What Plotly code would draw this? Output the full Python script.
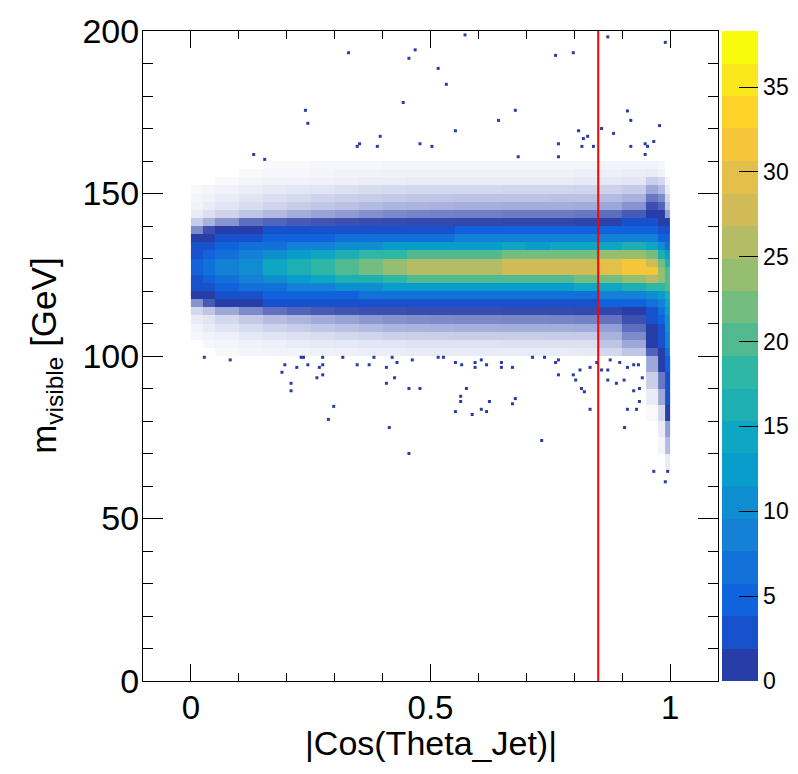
import numpy as np
import plotly.graph_objects as go

# binning of the coarse grid (narrower columns close to |cos| = 1)
cos_edges = [0.0, 0.025, 0.05, 0.1, 0.15, 0.2, 0.25, 0.3, 0.35, 0.4, 0.45, 0.5,
             0.55, 0.6, 0.65, 0.7, 0.75, 0.8, 0.85, 0.9, 0.95, 0.975, 0.99, 1.0]
mass_edges = [100, 102.5, 105, 107.5, 110, 112.5, 115, 117.5, 120, 122.5, 125,
              127.5, 130, 132.5, 135, 137.5, 140, 142.5, 145, 147.5, 150,
              152.5, 155, 157.5, 160]

# mean entries per bin, one list per cos column, mass rows from 100 GeV up
# (values below 1 = share of the fine bins that are filled)
counts_by_cos = [
    [0, 0, 0.04, 0.06, 0.1, 0.2, 0.55, 1.1, 2.0, 3.0, 3.9, 3.9, 3.1, 2.1, 1.2, 0.6, 0.26, 0.1, 0.06, 0.05, 0.03, 0, 0, 0],
    [0, 0.04, 0.06, 0.1, 0.14, 0.3, 0.85, 1.7, 3.0, 4.6, 5.9, 5.9, 4.7, 3.1, 1.8, 0.9, 0.4, 0.16, 0.1, 0.07, 0.05, 0, 0, 0],
    [0.03, 0.05, 0.08, 0.14, 0.2, 0.45, 1.2, 2.4, 4.3, 6.5, 8.3, 8.3, 6.6, 4.4, 2.6, 1.3, 0.55, 0.22, 0.14, 0.1, 0.07, 0.03, 0, 0],
    [0.05, 0.07, 0.12, 0.18, 0.28, 0.6, 1.6, 3.2, 5.8, 8.7, 11.3, 11.3, 9.0, 6.0, 3.5, 1.7, 0.74, 0.3, 0.18, 0.14, 0.09, 0.05, 0.03, 0],
    [0.06, 0.08, 0.14, 0.22, 0.34, 0.73, 2.0, 3.9, 7.0, 10.6, 13.7, 13.7, 10.9, 7.3, 4.2, 2.1, 0.8, 0.36, 0.22, 0.17, 0.11, 0.06, 0.04, 0.03],
    [0.06, 0.1, 0.16, 0.26, 0.38, 0.8, 2.2, 4.5, 8.0, 12.2, 15.7, 15.7, 12.5, 8.3, 4.8, 2.4, 0.85, 0.42, 0.26, 0.19, 0.13, 0.06, 0.04, 0.03],
    [0.07, 0.11, 0.18, 0.29, 0.43, 0.85, 2.5, 5.0, 9.0, 13.7, 17.8, 17.6, 14.0, 9.4, 5.4, 2.7, 0.88, 0.47, 0.29, 0.22, 0.14, 0.07, 0.05, 0.04],
    [0.08, 0.12, 0.2, 0.32, 0.48, 0.88, 2.8, 5.6, 10.0, 15.4, 20.2, 20.0, 15.8, 10.4, 6.0, 3.0, 0.9, 0.52, 0.32, 0.24, 0.16, 0.08, 0.06, 0.04],
    [0.09, 0.13, 0.22, 0.35, 0.53, 0.9, 3.1, 6.2, 11.0, 17.2, 22.4, 22.2, 17.6, 11.4, 6.6, 3.3, 0.92, 0.57, 0.35, 0.26, 0.18, 0.09, 0.06, 0.04],
    [0.09, 0.14, 0.24, 0.38, 0.56, 0.9, 3.3, 6.6, 11.8, 18.6, 24.2, 24.0, 18.9, 12.2, 7.1, 3.6, 0.93, 0.61, 0.38, 0.28, 0.19, 0.09, 0.07, 0.05],
    [0.1, 0.15, 0.25, 0.39, 0.59, 0.92, 3.4, 6.9, 12.3, 19.5, 25.5, 25.4, 19.9, 12.7, 7.4, 3.7, 0.94, 0.64, 0.39, 0.29, 0.2, 0.1, 0.07, 0.05],
    [0.1, 0.15, 0.25, 0.4, 0.6, 0.92, 3.5, 7.0, 12.5, 20.0, 26.2, 26.0, 20.4, 13.0, 7.5, 3.8, 0.94, 0.65, 0.4, 0.3, 0.2, 0.1, 0.07, 0.05],
    [0.1, 0.15, 0.26, 0.41, 0.61, 0.92, 3.6, 7.1, 12.8, 20.4, 26.6, 26.4, 20.8, 13.3, 7.7, 3.9, 0.94, 0.66, 0.41, 0.31, 0.2, 0.1, 0.07, 0.05],
    [0.1, 0.15, 0.26, 0.41, 0.61, 0.92, 3.6, 7.2, 12.9, 20.5, 26.8, 26.2, 20.6, 13.2, 7.7, 3.9, 0.94, 0.66, 0.41, 0.31, 0.2, 0.1, 0.07, 0.05],
    [0.1, 0.16, 0.26, 0.42, 0.62, 0.93, 3.6, 7.3, 13.0, 20.7, 27.0, 27.0, 21.2, 13.5, 7.8, 4.0, 0.95, 0.68, 0.42, 0.31, 0.21, 0.1, 0.07, 0.05],
    [0.1, 0.16, 0.26, 0.42, 0.62, 0.93, 3.7, 7.3, 13.1, 20.8, 26.9, 27.1, 21.1, 13.4, 7.8, 4.0, 0.95, 0.68, 0.42, 0.31, 0.21, 0.1, 0.07, 0.05],
    [0.1, 0.16, 0.27, 0.42, 0.63, 0.93, 3.7, 7.4, 13.2, 20.9, 27.2, 27.0, 21.3, 13.6, 7.9, 4.0, 0.95, 0.68, 0.42, 0.32, 0.21, 0.1, 0.07, 0.05],
    [0.11, 0.16, 0.27, 0.43, 0.65, 0.94, 3.8, 7.6, 13.5, 21.4, 27.8, 27.8, 21.9, 14.0, 8.1, 4.1, 0.96, 0.7, 0.43, 0.32, 0.22, 0.11, 0.08, 0.05],
    [0.2, 0.3, 0.4, 0.5, 0.72, 0.95, 4.1, 8.1, 14.5, 22.6, 29.4, 29.2, 23.0, 15.1, 8.7, 4.4, 0.97, 0.75, 0.46, 0.35, 0.23, 0.12, 0.08, 0.06],
    [0.3, 0.45, 0.6, 0.75, 0.9, 1.7, 4.4, 8.8, 15.6, 24.0, 31.2, 30.8, 24.4, 16.0, 9.3, 4.7, 2.0, 0.85, 0.55, 0.4, 0.27, 0.13, 0.09, 0.06],
    [0.8, 1.0, 1.4, 1.8, 2.2, 3.0, 5.8, 10.5, 17.5, 26.0, 30.8, 28.5, 21.5, 14.5, 8.5, 4.5, 2.1, 1.1, 0.9, 0.7, 0.45, 0.25, 0.1, 0.06],
    [1.8, 2.2, 2.8, 3.5, 5.0, 6.5, 9.0, 13.0, 18.5, 23.0, 24.5, 22.0, 16.0, 10.0, 5.5, 3.0, 1.6, 1.0, 0.8, 0.6, 0.35, 0.2, 0.06, 0.04],
    [7.0, 8.0, 9.0, 10.0, 11.0, 12.5, 14.5, 17.0, 19.5, 20.5, 19.5, 16.5, 11.5, 7.0, 4.0, 2.2, 1.0, 0.5, 0.3, 0.2, 0.1, 0.05, 0, 0],
]

# low mass tail at the forward edge
tail_cos_edges = [0.95, 0.975, 0.99, 1.0]
tail_mass_edges = [60, 65, 70, 75, 80, 85, 90, 95, 100]
tail_counts = [
    [0, 0, 0],
    [0, 0, 0.1],
    [0, 0.05, 0.35],
    [0, 0.1, 0.5],
    [0.03, 0.2, 1.2],
    [0.1, 0.45, 2.0],
    [0.25, 0.7, 3.0],
    [0.45, 1.2, 4.5],
]

# single entries far from the band
outlier_cos = [0.572, 0.870, 0.990, 0.329, 0.468, 0.455, 0.761, 0.798, 0.516, 0.533,
               0.443, 0.239, 0.244, 0.677, 0.911, 0.918, 0.642, 0.857, 0.978, 0.552,
               0.809, 0.882, 0.395, 0.828, 0.819, 0.352, 0.347, 0.389, 0.478, 0.503,
               0.767, 0.816, 0.840, 0.918, 0.948, 0.953, 0.966, 0.131, 0.154, 0.683,
               0.767, 0.948,
               0.028, 0.082, 0.230, 0.235, 0.275, 0.317, 0.382, 0.420, 0.516, 0.527,
               0.196, 0.221, 0.244, 0.268, 0.275, 0.347, 0.372, 0.408, 0.430, 0.462,
               0.552, 0.565, 0.593, 0.593, 0.606, 0.617, 0.648, 0.648, 0.671, 0.713,
               0.738, 0.761, 0.767, 0.833, 0.847, 0.812, 0.857, 0.870, 0.875, 0.895,
               0.911, 0.924, 0.934, 0.190, 0.275, 0.263, 0.425, 0.767, 0.798, 0.803,
               0.870, 0.888, 0.904, 0.942, 0.209, 0.408, 0.209, 0.455, 0.478, 0.575,
               0.815, 0.821, 0.924, 0.936, 0.563, 0.563, 0.623, 0.677, 0.671, 0.936,
               0.298, 0.552, 0.587, 0.606, 0.617, 0.833, 0.911, 0.930, 0.287, 0.414,
               0.905, 0.732, 0.455, 0.966, 0.995, 0.990]
outlier_mass = [198.8, 198.2, 196.5, 193.3, 194.2, 191.6, 192.5, 193.3, 188.5, 183.6,
                178.0, 175.6, 171.6, 175.6, 175.4, 172.5, 172.5, 170.0, 170.9, 169.3,
                169.3, 168.5, 167.6, 167.6, 166.9, 165.3, 164.5, 164.5, 165.3, 164.5,
                165.3, 164.5, 164.5, 164.5, 165.3, 164.5, 166.0, 162.0, 160.5, 161.3,
                161.3, 162.0,
                99.6, 98.8, 99.6, 99.6, 99.6, 99.6, 99.6, 99.6, 99.6, 99.6,
                97.3, 96.5, 97.3, 96.5, 97.3, 97.3, 97.3, 96.5, 98.0, 98.8,
                98.0, 97.3, 98.0, 96.5, 98.8, 97.3, 98.0, 96.5, 96.5, 99.6,
                99.6, 98.0, 98.8, 96.5, 98.0, 95.7, 95.7, 95.7, 98.8, 98.0,
                96.5, 97.3, 97.3, 95.0, 94.2, 93.3, 93.3, 94.2, 94.2, 92.6,
                92.6, 91.6, 92.6, 93.3, 91.6, 91.6, 89.3, 90.0, 90.0, 90.0,
                90.0, 89.0, 89.3, 90.0, 87.6, 86.0, 86.0, 86.9, 85.3, 86.0,
                84.5, 82.9, 82.0, 83.6, 82.9, 83.6, 83.6, 83.6, 80.5, 78.0,
                78.0, 74.0, 70.0, 64.5, 64.5, 61.3]

cut_value = 0.85
z_max = 38.3
cbar_ticks = [0, 5, 10, 15, 20, 25, 30, 35]

# ROOT kBird palette, cut into 20 contour levels
bird_stops = [0.0, 0.125, 0.25, 0.375, 0.5, 0.625, 0.75, 0.875, 1.0]
bird_r = [0.2082, 0.0592, 0.0780, 0.0232, 0.1802, 0.5301, 0.8186, 0.9956, 0.9764]
bird_g = [0.1664, 0.3599, 0.5041, 0.6419, 0.7178, 0.7492, 0.7328, 0.7862, 0.9832]
bird_b = [0.5293, 0.8684, 0.8385, 0.7914, 0.6425, 0.4662, 0.3499, 0.1968, 0.0539]


def bird(f):
    r = np.interp(f, bird_stops, bird_r)
    g = np.interp(f, bird_stops, bird_g)
    b = np.interp(f, bird_stops, bird_b)
    return "rgb(%d,%d,%d)" % (round(r * 255), round(g * 255), round(b * 255))


n_levels = 20
level_cols = [bird(int((i + 0.99) * 255 / n_levels) / 254) for i in range(n_levels)]

bar_scale = []
for i, c in enumerate(level_cols):
    bar_scale += [[i / n_levels, c], [(i + 1) / n_levels, c]]
# sparse bins fade from white to the first level colour
map_scale = [[0.0, "rgb(255,255,255)"], [1.0 / z_max, level_cols[0]]] + bar_scale[1:]


def to_z(rows):
    return [[v if v > 0 else None for v in row] for row in rows]


z_main = to_z(np.array(counts_by_cos).T.tolist())
font = "Liberation Sans, Arial, sans-serif"

fig = go.Figure()
fig.add_trace(go.Heatmap(x=cos_edges, y=mass_edges, z=z_main, zmin=0, zmax=z_max,
                         colorscale=map_scale, showscale=False, hoverinfo="skip"))
fig.add_trace(go.Heatmap(x=tail_cos_edges, y=tail_mass_edges, z=to_z(tail_counts),
                         zmin=0, zmax=z_max, colorscale=map_scale, showscale=False,
                         hoverinfo="skip"))
fig.add_trace(go.Scatter(x=outlier_cos, y=outlier_mass, mode="markers",
                         marker=dict(symbol="square", size=3, color=level_cols[0],
                                     line=dict(width=0)),
                         hoverinfo="skip", showlegend=False))
# dummy trace that only carries the palette axis
fig.add_trace(go.Scatter(x=[-5], y=[-5], mode="markers", showlegend=False,
                         marker=dict(color=[0], cmin=0, cmax=z_max, colorscale=bar_scale,
                                     showscale=True,
                                     colorbar=dict(x=1.007, xanchor="left", y=0.5,
                                                   yanchor="middle", thickness=36,
                                                   len=650, lenmode="pixels",
                                                   xpad=0, ypad=0, outlinewidth=0,
                                                   tickmode="array", tickvals=cbar_ticks,
                                                   ticks="inside", ticklen=19,
                                                   tickcolor="black",
                                                   tickfont=dict(family=font, size=23,
                                                                 color="black")))))

fig.add_shape(type="line", x0=cut_value, x1=cut_value, y0=0, y1=200,
              xref="x", yref="y", line=dict(color="red", width=2))

fig.update_xaxes(range=[-0.1, 1.1], tick0=0, dtick=0.5, ticks="inside", ticklen=17,
                 tickcolor="black", showline=True, linecolor="black", linewidth=1,
                 mirror="ticks", showgrid=False, zeroline=False, ticklabelstandoff=-3,
                 minor=dict(dtick=0.1, ticks="inside", ticklen=8, tickcolor="black"),
                 tickfont=dict(family=font, size=33, color="black"))
fig.update_yaxes(range=[0, 200], tick0=0, dtick=50, ticks="inside", ticklen=20,
                 tickcolor="black", showline=True, linecolor="black", linewidth=1,
                 mirror="ticks", showgrid=False, zeroline=False, ticklabelstandoff=-4,
                 minor=dict(dtick=10, ticks="inside", ticklen=10, tickcolor="black"),
                 tickfont=dict(family=font, size=34, color="black"))

# the page body adds 8 px on top/left, so the figure is 8 px smaller
fig.update_layout(
    width=790, height=766,
    margin=dict(l=135, r=80, t=23, b=93, autoexpand=False),
    paper_bgcolor="white", plot_bgcolor="white",
    showlegend=False,
    annotations=[
        dict(text="|Cos(Theta_Jet)|", x=0.5, y=-0.096, xref="paper", yref="paper",
             xanchor="center", yanchor="middle", showarrow=False,
             font=dict(family=font, size=34, color="black")),
        dict(text="m<sub>visible</sub> [GeV]", x=-0.169, y=0.5, xref="paper",
             yref="paper", xanchor="center", yanchor="middle", textangle=-90,
             showarrow=False, font=dict(family=font, size=35, color="black")),
    ],
)

fig.write_html("out.html")
